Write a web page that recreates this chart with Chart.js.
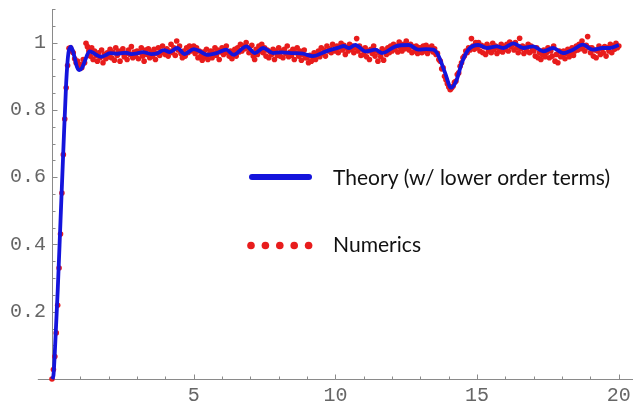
<!DOCTYPE html>
<html lang="en">
<head>
    <meta charset="UTF-8">
    <title>Theory vs Numerics</title>
    <script src="https://cdn.jsdelivr.net/npm/chart.js"></script>
    <style>
        body {
            margin: 0;
            background: #ffffff;
        }
        .wrap {
            position: relative;
            width: 637px;
            height: 402px;
        }
    </style>
</head>
<body>
<div class="wrap">
    <canvas id="plot"></canvas>
</div>
<script>
// theory curve (w/ lower order terms)
const theoryX = [0, 0.05, 0.1, 0.2, 0.3, 0.4, 0.5, 0.58, 0.67, 0.78,
    0.88, 0.97, 1.06, 1.15, 1.32, 1.45, 1.56, 1.73, 1.9, 2.05,
    2.3, 2.6, 2.8, 3.0, 3.2, 3.5, 3.7, 3.95, 4.15, 4.42,
    4.68, 5.0, 5.2, 5.46, 5.81, 6.15, 6.4, 6.86, 7.16, 7.45,
    7.8, 8.1, 8.5, 8.85, 9.2, 9.67, 10.1, 10.3, 10.48, 10.7,
    11.06, 11.41, 11.65, 12.12, 12.59, 12.93, 13.2, 13.46, 13.63, 13.87,
    14.08, 14.28, 14.46, 14.69, 15.04, 15.35, 15.7, 15.93, 16.28, 16.63,
    16.98, 17.33, 17.68, 18.03, 18.38, 18.73, 19.08, 19.43, 19.67, 20.0];
const theoryY = [0, 0.01, 0.08, 0.26, 0.47, 0.68, 0.88, 0.97, 0.988, 0.962,
    0.928, 0.918, 0.925, 0.943, 0.974, 0.97, 0.964, 0.958, 0.963, 0.969,
    0.967, 0.97, 0.966, 0.968, 0.972, 0.966, 0.968, 0.978, 0.972, 0.984,
    0.966, 0.981, 0.975, 0.964, 0.969, 0.979, 0.964, 0.989, 0.969, 0.984,
    0.969, 0.971, 0.969, 0.967, 0.96, 0.974, 0.985, 0.99, 0.984, 0.993,
    0.974, 0.979, 0.969, 0.989, 0.993, 0.979, 0.981, 0.979, 0.962, 0.91,
    0.866, 0.89, 0.94, 0.979, 0.993, 0.984, 0.989, 0.984, 0.998, 0.984,
    0.989, 0.974, 0.984, 0.969, 0.979, 0.994, 0.979, 0.984, 0.984, 0.993];

// numerics, sampled every 0.05 from 0 to 20 (one row per unit of x)
const numStep = 0.05;
const numericsY = [
    0, 0.028, 0.067, 0.137, 0.219, 0.33, 0.431, 0.553, 0.667, 0.773, 0.866, 0.932, 0.983, 0.985, 0.975, 0.97, 0.952, 0.94, 0.945, 0.93,
    0.935, 0.925, 0.95, 0.94, 0.998, 0.988, 0.975, 0.96, 0.985, 0.95, 0.975, 0.962, 0.945, 0.97, 0.955, 0.978, 0.94, 0.965, 0.952, 0.97,
    0.958, 0.98, 0.955, 0.972, 0.948, 0.985, 0.962, 0.975, 0.945, 0.97, 0.982, 0.958, 0.968, 0.95, 0.978, 0.965, 0.988, 0.955, 0.972, 0.96,
    0.975, 0.952, 0.97, 0.985, 0.96, 0.945, 0.978, 0.965, 0.982, 0.955, 0.972, 0.96, 0.98, 0.95, 0.968, 0.985, 0.962, 0.975, 0.99, 0.97,
    0.965, 0.982, 0.96, 0.975, 0.995, 0.97, 0.985, 0.962, 1.005, 0.978, 0.99, 0.968, 0.955, 0.975, 0.96, 0.985, 0.97, 0.99, 0.975, 0.982,
    0.99, 0.968, 0.985, 0.955, 0.975, 0.96, 0.948, 0.972, 0.958, 0.98, 0.95, 0.965, 0.975, 0.955, 0.97, 0.985, 0.962, 0.978, 0.95, 0.972,
    0.985, 0.965, 0.978, 0.99, 0.97, 0.96, 0.975, 0.952, 0.968, 0.98, 0.96, 0.985, 0.972, 0.995, 0.975, 0.99, 0.982, 1.0, 0.985, 0.97,
    0.975, 0.992, 0.96, 0.95, 0.98, 0.965, 0.99, 0.975, 0.995, 0.97, 0.985, 0.96, 0.978, 0.955, 0.972, 0.965, 0.98, 0.95, 0.975, 0.962,
    0.985, 0.96, 0.975, 0.955, 0.98, 0.968, 0.99, 0.958, 0.972, 0.962, 0.98, 0.95, 0.97, 0.985, 0.96, 0.975, 0.948, 0.965, 0.978, 0.955,
    0.955, 0.94, 0.962, 0.945, 0.958, 0.97, 0.95, 0.965, 0.975, 0.958, 0.985, 0.968, 0.978, 0.96, 0.99, 0.975, 0.982, 0.97, 0.995, 0.978,
    0.975, 0.99, 0.97, 0.985, 0.998, 0.978, 0.992, 0.965, 0.985, 0.975, 0.995, 0.98, 0.99, 0.97, 0.985, 1.012, 0.975, 0.99, 0.962, 0.98,
    0.965, 0.985, 0.958, 0.975, 0.95, 0.98, 0.968, 0.99, 0.96, 0.975, 0.945, 0.97, 0.958, 0.982, 0.948, 0.975, 0.965, 0.985, 0.97, 0.99,
    0.975, 0.995, 0.98, 0.99, 0.972, 1.002, 0.985, 0.975, 0.995, 0.982, 1.005, 0.988, 0.978, 0.995, 0.97, 0.988, 0.975, 0.99, 0.968, 0.985,
    0.985, 0.97, 0.99, 0.975, 0.992, 0.968, 0.985, 0.978, 0.99, 0.972, 0.982, 0.965, 0.968, 0.95, 0.945, 0.922, 0.925, 0.9, 0.89, 0.878,
    0.868, 0.86, 0.865, 0.87, 0.882, 0.885, 0.905, 0.91, 0.93, 0.94, 0.955, 0.96, 0.975, 0.97, 0.985, 0.978, 1.012, 0.99, 0.98, 1.0,
    0.985, 1.0, 0.975, 0.992, 0.97, 0.988, 0.965, 0.995, 0.975, 0.985, 0.97, 0.998, 0.98, 0.99, 0.968, 0.985, 0.975, 0.995, 0.972, 0.988,
    0.98, 0.995, 0.975, 1.002, 0.988, 0.995, 0.978, 1.0, 0.985, 0.97, 1.013, 0.982, 0.99, 0.968, 0.985, 0.975, 0.995, 0.97, 0.99, 0.98,
    0.975, 0.96, 0.985, 0.955, 0.97, 0.95, 0.965, 0.978, 0.958, 0.97, 0.985, 0.955, 0.975, 0.96, 0.99, 0.945, 0.965, 0.94, 0.975, 0.958,
    0.96, 0.975, 0.952, 0.968, 0.98, 0.958, 0.97, 0.985, 0.962, 0.975, 0.99, 0.978, 0.995, 0.982, 1.005, 0.988, 0.975, 0.992, 1.018, 0.985,
    0.97, 0.985, 0.96, 0.978, 0.955, 0.975, 0.99, 0.965, 0.982, 0.97, 0.988, 0.96, 0.985, 0.975, 0.995, 0.97, 0.99, 0.98, 0.998, 0.985,
    0.99
];

const legendLabels = ['Theory (w/ lower order terms)', 'Numerics'];

const blue = '#1414dc';
const red = '#e81c1c';
const axisColor = '#8a8a8a';
const tickFont = {family: "'Liberation Mono', 'DejaVu Sans Mono', monospace", size: 20};

// axis lines, inward tick marks and the stub of x axis left of the origin
const axisMarks = {
    id: 'axisMarks',
    beforeDatasetsDraw(chart) {
        const {ctx, chartArea, scales: {x, y}} = chart;
        const x0 = Math.round(x.getPixelForValue(0)) + 0.5;
        const y0 = Math.round(y.getPixelForValue(0)) + 0.5;
        ctx.save();
        ctx.strokeStyle = axisColor;
        ctx.lineWidth = 1;
        ctx.beginPath();
        ctx.moveTo(x.getPixelForValue(-0.5), y0);
        ctx.lineTo(chartArea.right, y0);
        ctx.moveTo(x0, chartArea.top);
        ctx.lineTo(x0, y0);
        x.ticks.forEach(t => {
            const px = Math.round(x.getPixelForValue(t.value)) + 0.5;
            const len = t.value % 5 === 0 ? 5 : 3;
            ctx.moveTo(px, y0);
            ctx.lineTo(px, y0 - len);
        });
        y.ticks.forEach(t => {
            const py = Math.round(y.getPixelForValue(t.value)) + 0.5;
            const len = Math.round(t.value * 100) % 20 === 0 ? 5 : 3;
            ctx.moveTo(x0, py);
            ctx.lineTo(x0 + len, py);
        });
        ctx.stroke();
        ctx.restore();
    }
};

// legend drawn inside the plot, as in the original figure
const innerLegend = {
    id: 'innerLegend',
    afterDatasetsDraw(chart) {
        const {ctx} = chart;
        ctx.save();
        ctx.strokeStyle = blue;
        ctx.lineWidth = 6;
        ctx.lineCap = 'round';
        ctx.beginPath();
        ctx.moveTo(252, 177);
        ctx.lineTo(309, 177);
        ctx.stroke();
        ctx.fillStyle = red;
        for (let i = 0; i < 5; i++) {
            ctx.beginPath();
            ctx.arc(251 + i * 14.4, 245.5, 3.8, 0, Math.PI * 2);
            ctx.fill();
        }
        ctx.fillStyle = '#111111';
        ctx.font = "22px Lato, 'Open Sans', sans-serif";
        ctx.textBaseline = 'alphabetic';
        ctx.fillText(legendLabels[0], 333, 185, 277);
        ctx.fillText(legendLabels[1], 333, 252, 88);
        ctx.restore();
    }
};

new Chart(document.getElementById('plot'), {
    type: 'scatter',
    data: {
        datasets: [{
            label: legendLabels[0],
            type: 'line',
            data: theoryX.map((v, i) => ({x: v, y: theoryY[i]})),
            borderColor: blue,
            borderWidth: 3.8,
            pointRadius: 0,
            cubicInterpolationMode: 'monotone',
            order: 0,
            clip: 6
        }, {
            label: legendLabels[1],
            data: numericsY.map((v, i) => ({x: i * numStep, y: v})),
            backgroundColor: red,
            borderWidth: 0,
            pointRadius: 2.8,
            order: 1,
            clip: 6
        }]
    },
    options: {
        responsive: true,
        maintainAspectRatio: false,
        animation: false,
        layout: {padding: {top: 9, left: 0, right: 0, bottom: 0}},
        plugins: {
            legend: {display: false},
            tooltip: {enabled: false}
        },
        scales: {
            x: {
                type: 'linear',
                min: 0,
                max: 20.5,
                grid: {display: false, drawTicks: false},
                border: {display: false},
                ticks: {
                    stepSize: 1,
                    includeBounds: false,
                    autoSkip: false,
                    maxRotation: 0,
                    padding: 5,
                    color: '#666666',
                    font: tickFont,
                    callback: v => (v > 0 && v % 5 === 0) ? String(v) : ''
                },
                afterFit(scale) {
                    scale.height = 23;
                    scale.paddingLeft = 0;
                    scale.paddingRight = 0;
                }
            },
            y: {
                min: 0,
                max: 1.1,
                grid: {display: false, drawTicks: false},
                border: {display: false},
                ticks: {
                    stepSize: 0.05,
                    autoSkip: false,
                    padding: 6,
                    color: '#666666',
                    font: tickFont,
                    callback: v => {
                        const r = Math.round(v * 100);
                        if (r <= 0 || r % 20 !== 0) return '';
                        return r === 100 ? '1' : (r / 100).toFixed(1);
                    }
                },
                afterFit(scale) {
                    scale.width = 52;
                    scale.paddingTop = 0;
                    scale.paddingBottom = 0;
                }
            }
        }
    },
    plugins: [axisMarks, innerLegend]
});
</script>
</body>
</html>
